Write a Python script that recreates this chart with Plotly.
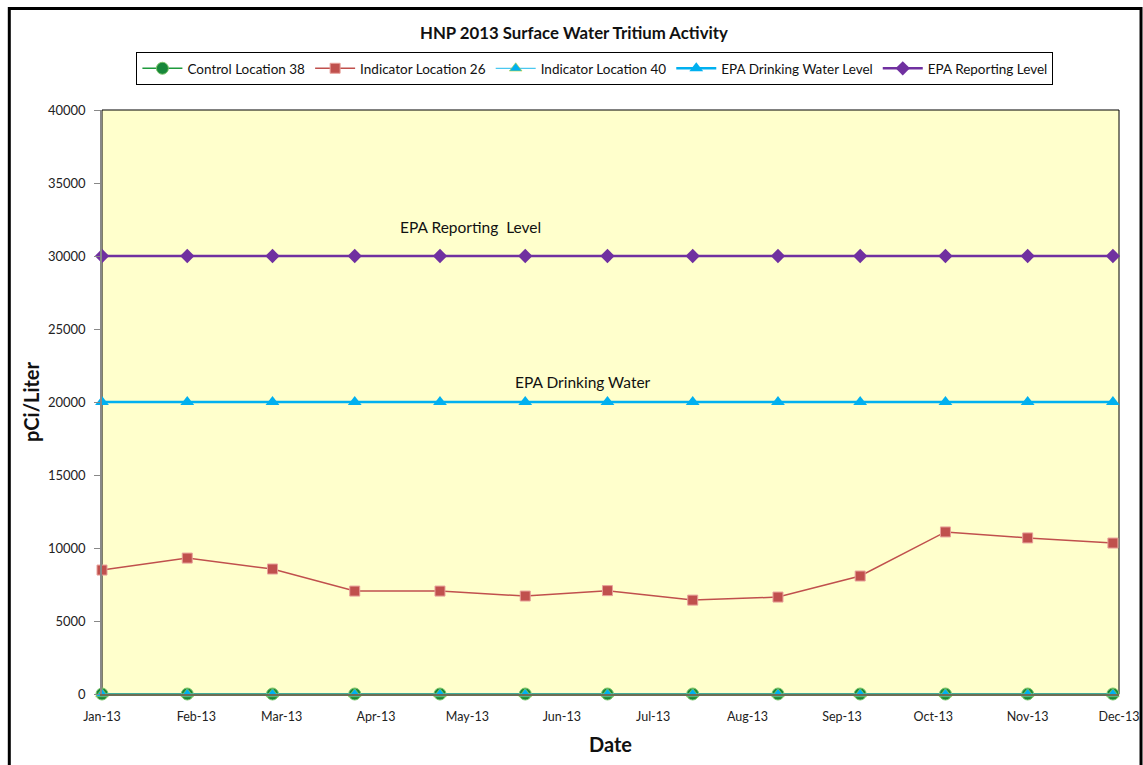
import plotly.graph_objects as go

dates = ["2013-01-01", "2013-01-29", "2013-02-26", "2013-03-25", "2013-04-22",
         "2013-05-20", "2013-06-16", "2013-07-14", "2013-08-11", "2013-09-07",
         "2013-10-05", "2013-11-01", "2013-11-29"]
control_38 = [0] * 13
indicator_26 = [8490, 9310, 8560, 7050, 7050, 6710, 7080, 6430, 6640, 8080, 11100, 10690, 10340]
indicator_40 = [0] * 13
epa_drinking = [20000] * 13
epa_reporting = [30000] * 13

FONT = "Lato, 'Open Sans', sans-serif"

SX = 1.0 / 0.992  # horizontal compensation observed in the rendered snapshot
W, H = round(1143 * SX), 765
L, T = round(101 * SX), 110
R = W - round(1118 * SX)
B = H - 694
PW, PH = W - L - R, H - T - B


def px_x(x):
    return (x * SX - L) / PW


def px_y(y):
    return (H - B - y) / PH


fig = go.Figure()
fig.add_trace(go.Scatter(x=dates, y=control_38, name="Control Location 38", mode="lines+markers",
                         line=dict(color="#1E9A3C", width=1.5),
                         marker=dict(symbol="circle", size=12, color="#17873A",
                                     line=dict(color="#7CC46A", width=1)),
                         cliponaxis=False))
fig.add_trace(go.Scatter(x=dates, y=indicator_26, name="Indicator Location 26", mode="lines+markers",
                         line=dict(color="#C0504D", width=1.5),
                         marker=dict(symbol="square", size=10, color="#C0504D",
                                     line=dict(color="#E8A09A", width=1)),
                         cliponaxis=False))
fig.add_trace(go.Scatter(x=dates, y=indicator_40, name="Indicator Location 40", mode="lines+markers",
                         line=dict(color="#4BC8F0", width=1.2),
                         marker=dict(symbol="triangle-up", size=11, color="#00B0F0",
                                     line=dict(color="#B5D334", width=0.6)),
                         cliponaxis=False))
fig.add_trace(go.Scatter(x=dates, y=epa_drinking, name="EPA Drinking Water Level", mode="lines+markers",
                         line=dict(color="#00B0F0", width=2.5),
                         marker=dict(symbol="triangle-up", size=12, color="#00B0F0"),
                         cliponaxis=False))
fig.add_trace(go.Scatter(x=dates, y=epa_reporting, name="EPA Reporting Level", mode="lines+markers",
                         line=dict(color="#7030A0", width=2.5),
                         marker=dict(symbol="diamond", size=11, color="#7030A0"),
                         cliponaxis=False))

fig.update_layout(
    width=W, height=H,
    margin=dict(l=L, r=R, t=T, b=B, pad=0),
    paper_bgcolor="white",
    plot_bgcolor="#FFFFCC",
    font=dict(family=FONT, color="#222222", size=13),
    title=dict(text="<b>HNP 2013 Surface Water Tritium Activity</b>", x=px_x(573), xanchor="center",
               xref="paper", y=1 - 33 / H, yanchor="middle",
               font=dict(size=16.8, color="#111111")),
    showlegend=True,
    legend=dict(orientation="h", x=px_x(594), xanchor="center",
                y=px_y(52), yanchor="top",
                bordercolor="#000000", borderwidth=1, bgcolor="white",
                font=dict(size=13.5, color="#111111"), itemwidth=40,
                traceorder="normal"),
    xaxis=dict(type="date", range=["2013-01-01", "2013-12-01"],
               tickmode="linear", tick0="2013-01-01", dtick="M1", tickformat="%b-%y",
               showgrid=False, zeroline=False, showline=True, linecolor="#6E6E55", linewidth=1.5,
               ticks="", tickfont=dict(size=12.5, color="#222222"), ticklabelstandoff=10,
               title=dict(text="<b>Date</b>", font=dict(size=20, color="#111111"), standoff=15)),
    yaxis=dict(range=[0, 40000], dtick=5000, tickformat="d", showgrid=False, zeroline=False,
               showline=True, linecolor="#888888", linewidth=1.5,
               ticks="outside", ticklen=6, tickcolor="#888888", ticklabelstandoff=6,
               tickfont=dict(size=13, color="#222222"),
               title=dict(text="<b>pCi/Liter</b>", font=dict(size=20, color="#111111"), standoff=3)),
    annotations=[
        dict(text="EPA Reporting  Level", x="2013-05-02", y=32000, xref="x", yref="y",
             showarrow=False, font=dict(size=15.5, color="#111111")),
        dict(text="EPA Drinking Water", x="2013-06-08", y=21350, xref="x", yref="y",
             showarrow=False, font=dict(size=15.5, color="#111111")),
    ],
    shapes=[
        dict(type="rect", xref="paper", yref="paper", x0=0, x1=1, y0=0, y1=1,
             line=dict(color="#000000", width=1), layer="below"),
        dict(type="rect", xref="paper", yref="paper",
             x0=px_x(8.5), x1=px_x(1140),
             y0=px_y(800), y1=px_y(8.5),
             line=dict(color="#000000", width=3)),
    ],
)

fig.write_html("out.html", config={"displayModeBar": False},
               post_script="document.body.style.margin='0';document.body.style.overflow='hidden';")
